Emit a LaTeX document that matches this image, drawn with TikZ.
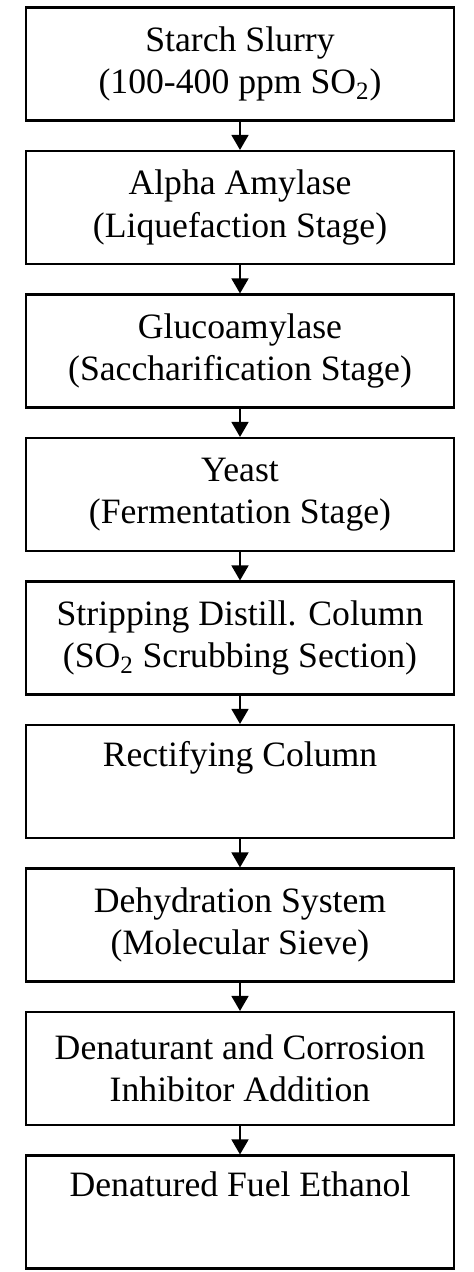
\documentclass[tikz,border=0pt]{standalone}
\usepackage{fontspec}
\setmainfont{Liberation Serif}
\usetikzlibrary{arrows.meta}

\begin{document}
\begin{tikzpicture}[
    scale=1,
    >={Triangle[length=0.3cm, width=0.34cm]},
    stage/.style = {rectangle, draw=black, line width=1.2pt,
              minimum width=8.56cm, minimum height=2.26cm,
              inner sep=0pt, align=center,
              font=\fontsize{20.3}{24}\selectfont},
    flow/.style = {->, black, line width=0.9pt},
    ]
\useasboundingbox (0,0) rectangle (9.46,-25.44);

\node[stage] (stage_1) at (4.8,-1.28){Starch Slurry\\(100-400 ppm SO\textsubscript{2})};
\node[stage] (stage_2) at (4.8,-4.15){Alpha Amylase\\(Liquefaction Stage)};
\node[stage] (stage_3) at (4.8,-7.02){Glucoamylase\\(Saccharification Stage)};
\node[stage] (stage_4) at (4.8,-9.89){Yeast\\(Fermentation Stage)};
\node[stage] (stage_5) at (4.8,-12.76){Stripping Distill. Column\\(SO\textsubscript{2} Scrubbing Section)};
\node[stage] (stage_6) at (4.8,-15.63){Rectifying Column\\\strut};
\node[stage] (stage_7) at (4.8,-18.50){Dehydration System\\(Molecular Sieve)};
\node[stage] (stage_8) at (4.8,-21.37){Denaturant and Corrosion\\Inhibitor Addition};
\node[stage] (stage_9) at (4.8,-24.24){Denatured Fuel Ethanol\\\strut};
\draw [flow] (stage_1) -- (stage_2);
\draw [flow] (stage_2) -- (stage_3);
\draw [flow] (stage_3) -- (stage_4);
\draw [flow] (stage_4) -- (stage_5);
\draw [flow] (stage_5) -- (stage_6);
\draw [flow] (stage_6) -- (stage_7);
\draw [flow] (stage_7) -- (stage_8);
\draw [flow] (stage_8) -- (stage_9);

\end{tikzpicture}
\end{document}
